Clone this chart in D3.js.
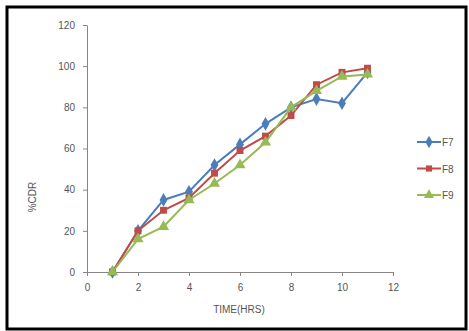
<!DOCTYPE html>
<html lang="en">
<head>
  <meta charset="UTF-8">
  <title>%CDR vs TIME</title>
  <style>
    body{ margin: 0; background: #fff; }
    .axis path, .axis line{ stroke: #868686; }
    .axis text{ fill: #555; font-family: "Liberation Sans Narrow", "Liberation Sans", Arial, sans-serif; font-size: 10px; }
    .title{ fill: #555; font-family: "Liberation Sans Narrow", "Liberation Sans", Arial, sans-serif; font-size: 10px; }
    .line{ fill: none; stroke-width: 2px; }
  </style>
</head>
<body>
  <script src="https://cdn.jsdelivr.net/npm/d3@7"></script>
  <script>
    const width = 469, height = 331;
    const hours = [1, 2, 3, 4, 5, 6, 7, 8, 9, 10, 11];
    const f7 = [0, 20, 35, 39, 52, 62, 72, 80, 84, 82, 97];
    const f8 = [0, 20, 30, 36, 48, 59, 66, 76, 91, 97, 99];
    const f9 = [0, 16, 22, 35, 43, 52, 63, 80, 88, 95, 96];
    const seriesNames = ['F7', 'F8', 'F9'];
    const xTicks = [0, 2, 4, 6, 8, 10, 12];
    const yTicks = [0, 20, 40, 60, 80, 100, 120];

    const series = [
      {name: 'F7', values: f7, color: '#4a7ebb', symbol: d3.symbolDiamond},
      {name: 'F8', values: f8, color: '#be4b48', symbol: d3.symbolSquare},
      {name: 'F9', values: f9, color: '#98b954', symbol: d3.symbolTriangle}
    ];

    const x = d3.scaleLinear().domain([0, 12]).range([87, 393]);
    const y = d3.scaleLinear().domain([0, 120]).range([272, 25]);

    const svg = d3.select('body').append('svg')
      .attr('width', width).attr('height', height);

    // frame
    svg.append('rect')
      .attr('x', 7).attr('y', 7).attr('width', 459).attr('height', 322)
      .attr('fill', '#fff').attr('stroke', '#000').attr('stroke-width', 3);

    svg.append('g').attr('class', 'axis')
      .attr('transform', `translate(0,${y(0)})`)
      .call(d3.axisBottom(x).tickValues(xTicks).tickSize(4).tickSizeOuter(0).tickPadding(8));

    svg.append('g').attr('class', 'axis')
      .attr('transform', `translate(${x(0)},0)`)
      .call(d3.axisLeft(y).tickValues(yTicks).tickSize(4).tickSizeOuter(0).tickPadding(8));

    svg.append('text').attr('class', 'title')
      .attr('x', x(6) - 1).attr('y', 313).attr('text-anchor', 'middle')
      .text('TIME(HRS)');

    svg.append('text').attr('class', 'title')
      .attr('transform', 'translate(36,197) rotate(-90)')
      .attr('text-anchor', 'middle')
      .text('%CDR');

    const line = d3.line().x((d, i) => x(hours[i])).y(d => y(d));
    const markSize = s => s.symbol === d3.symbolSquare ? 48 : 54;

    series.forEach(function(s){
      const g = svg.append('g');
      g.append('path').attr('class', 'line')
        .attr('stroke', s.color).attr('d', line(s.values));
      g.selectAll('path.mark').data(s.values).enter().append('path')
        .attr('class', 'mark')
        .attr('transform', (d, i) => `translate(${x(hours[i])},${y(d)})`)
        .attr('d', d3.symbol().type(s.symbol).size(markSize(s)))
        .attr('fill', s.color);
    });

    // legend
    const legend = svg.append('g');
    series.forEach(function(s, i){
      const ly = 142 + i * 26.5;
      legend.append('line').attr('x1', 417).attr('x2', 441)
        .attr('y1', ly).attr('y2', ly)
        .attr('stroke', s.color).attr('stroke-width', 2);
      legend.append('path')
        .attr('transform', `translate(429,${ly})`)
        .attr('d', d3.symbol().type(s.symbol).size(markSize(s) - 10))
        .attr('fill', s.color);
      legend.append('text').attr('class', 'title')
        .attr('x', 442).attr('y', ly + 4)
        .text(seriesNames[i]);
    });
  </script>
</body>
</html>
